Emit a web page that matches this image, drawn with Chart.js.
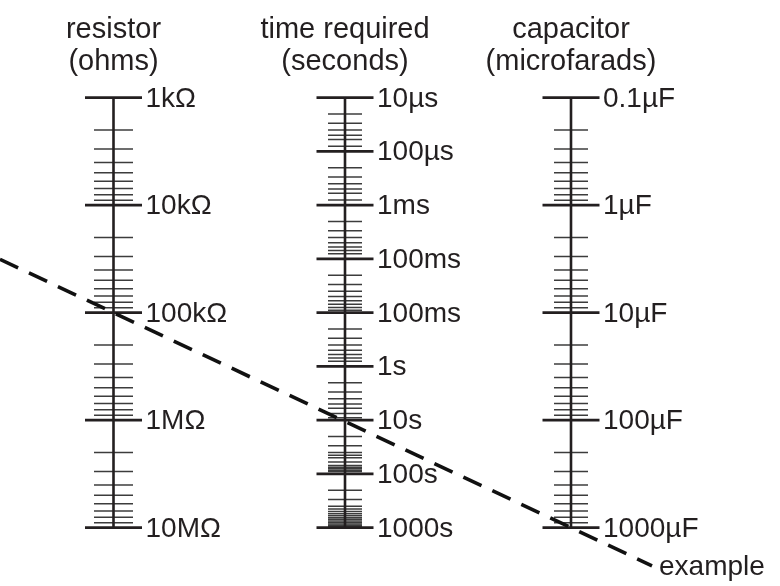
<!DOCTYPE html>
<html>
<head>
<meta charset="utf-8">
<script src="https://cdn.jsdelivr.net/npm/chart.js@4/dist/chart.umd.min.js"></script>
<style>
  html, body { margin: 0; padding: 0; background: #ffffff; }
  #wrap { width: 780px; height: 586px; }
</style>
</head>
<body>
<div id="wrap"><canvas id="c" width="780" height="586"></canvas></div>
<script>
// ---------------- data ----------------
const resistorTitle = ['resistor', '(ohms)'];
const resistorValues = [1e3, 1e4, 1e5, 1e6, 1e7];
const resistorLabels = ['1kΩ', '10kΩ', '100kΩ', '1MΩ', '10MΩ'];

const timeTitle = ['time required', '(seconds)'];
const timeValues = [1e-5, 1e-4, 1e-3, 1e-2, 1e-1, 1, 10, 100, 1000];
const timeLabels = ['10µs', '100µs', '1ms', '100ms', '100ms', '1s', '10s', '100s', '1000s'];
const timeMinorValues = [
  2e-5, 3e-5, 4e-5, 5e-5, 6e-5, 8e-5,
  2e-4, 3e-4, 4e-4, 5e-4, 6e-4, 8e-4,
  2e-3, 3e-3, 4e-3, 5e-3, 6e-3, 7e-3, 8e-3,
  2e-2, 3e-2, 4e-2, 5e-2, 6e-2, 7e-2, 8e-2, 9e-2,
  0.2, 0.3, 0.4, 0.5, 0.6, 0.7, 0.8,
  2, 3, 4, 5, 6, 7.5, 9,
  20, 30, 40, 45, 50, 60, 70, 75, 80, 85, 90,
  200, 300, 400, 450, 500, 550, 600, 650, 700, 750, 800, 850, 900, 950
];

const capacitorTitle = ['capacitor', '(microfarads)'];
const capacitorValues = [0.1, 1, 10, 100, 1000];
const capacitorLabels = ['0.1µF', '1µF', '10µF', '100µF', '1000µF'];

// minor log subdivisions inside each decade (resistor and capacitor scales)
const decadeMultipliers = [2, 3, 4, 5, 6, 7, 8, 9];

const exampleResistor = 1e5;     // ohms
const exampleCapacitor = 1000;   // µF
const exampleLabel = 'example';

// ---------------- layout / style ----------------
const LAYOUT = {
  axisX: { yR: 113.5, yT: 345, yC: 571 },
  majorHalf: 28.5,
  minorHalf: { yR: 19.5, yT: 17, yC: 17 },
  labelGap: 32,
  titleBaselines: [38, 70],
  exampleEndX: 652,
  exampleLabelX: 659,
  exampleLabelY: 575
};
const INK = '#231f20';
const MINOR_INK = '#3c3c3c';
const LABEL_FONT = '28px "Liberation Sans", Arial, sans-serif';
const TITLE_FONT = '29px "Liberation Sans", Arial, sans-serif';

function withMinors(majors) {
  const out = [];
  for (let i = 0; i < majors.length - 1; i++) {
    decadeMultipliers.forEach(m => out.push(majors[i] * m));
  }
  return out;
}

const columns = [
  { id: 'yR', title: resistorTitle, majors: resistorValues, labels: resistorLabels, minors: withMinors(resistorValues) },
  { id: 'yT', title: timeTitle, majors: timeValues, labels: timeLabels, minors: timeMinorValues },
  { id: 'yC', title: capacitorTitle, majors: capacitorValues, labels: capacitorLabels, minors: withMinors(capacitorValues) }
];

const nomogramPlugin = {
  id: 'nomogram',
  afterDraw(chart) {
    const ctx = chart.ctx;
    ctx.save();
    ctx.lineCap = 'butt';

    columns.forEach(col => {
      const scale = chart.scales[col.id];
      const x = LAYOUT.axisX[col.id];
      const top = scale.getPixelForValue(col.majors[0]);
      const bottom = scale.getPixelForValue(col.majors[col.majors.length - 1]);

      // minor ticks
      ctx.strokeStyle = MINOR_INK;
      ctx.lineWidth = 1.5;
      const mh = LAYOUT.minorHalf[col.id];
      col.minors.forEach(v => {
        const y = scale.getPixelForValue(v);
        ctx.beginPath();
        ctx.moveTo(x - mh, y);
        ctx.lineTo(x + mh, y);
        ctx.stroke();
      });

      // spine
      ctx.strokeStyle = INK;
      ctx.lineWidth = 2.6;
      ctx.beginPath();
      ctx.moveTo(x, top);
      ctx.lineTo(x, bottom);
      ctx.stroke();

      // major ticks + labels
      ctx.fillStyle = INK;
      ctx.font = LABEL_FONT;
      ctx.textAlign = 'left';
      ctx.textBaseline = 'alphabetic';
      col.majors.forEach((v, i) => {
        const y = scale.getPixelForValue(v);
        ctx.lineWidth = 2.8;
        ctx.beginPath();
        ctx.moveTo(x - LAYOUT.majorHalf, y);
        ctx.lineTo(x + LAYOUT.majorHalf, y);
        ctx.stroke();
        ctx.fillText(col.labels[i], x + LAYOUT.labelGap, y + 9);
      });

      // titles
      ctx.font = TITLE_FONT;
      ctx.textAlign = 'center';
      col.title.forEach((t, i) => ctx.fillText(t, x, LAYOUT.titleBaselines[i]));
    });

    // example dashed line through R and C values
    const sR = chart.scales.yR, sC = chart.scales.yC;
    const x1 = LAYOUT.axisX.yR, y1 = sR.getPixelForValue(exampleResistor);
    const x2 = LAYOUT.axisX.yC, y2 = sC.getPixelForValue(exampleCapacitor);
    const slope = (y2 - y1) / (x2 - x1);
    const xs = chart.chartArea.left, xe = LAYOUT.exampleEndX;
    ctx.strokeStyle = '#111111';
    ctx.lineWidth = 3.6;
    ctx.setLineDash([20, 12]);
    ctx.beginPath();
    ctx.moveTo(xs, y1 + (xs - x1) * slope);
    ctx.lineTo(xe, y1 + (xe - x1) * slope);
    ctx.stroke();
    ctx.setLineDash([]);

    ctx.fillStyle = INK;
    ctx.font = LABEL_FONT;
    ctx.textAlign = 'left';
    ctx.fillText(exampleLabel, LAYOUT.exampleLabelX, LAYOUT.exampleLabelY);
    ctx.restore();
  }
};

new Chart(document.getElementById('c'), {
  type: 'scatter',
  data: { datasets: [] },
  options: {
    responsive: false,
    animation: false,
    layout: { padding: { top: 97.7, bottom: 58.3, left: 0, right: 0 } },
    plugins: { legend: { display: false }, tooltip: { enabled: false } },
    scales: {
      x: { type: 'linear', min: 0, max: 780, display: false },
      yR: { type: 'logarithmic', min: resistorValues[0], max: resistorValues[resistorValues.length - 1], reverse: true, display: false },
      yT: { type: 'logarithmic', min: timeValues[0], max: timeValues[timeValues.length - 1], reverse: true, display: false },
      yC: { type: 'logarithmic', min: capacitorValues[0], max: capacitorValues[capacitorValues.length - 1], reverse: true, display: false }
    }
  },
  plugins: [nomogramPlugin]
});
</script>
</body>
</html>
